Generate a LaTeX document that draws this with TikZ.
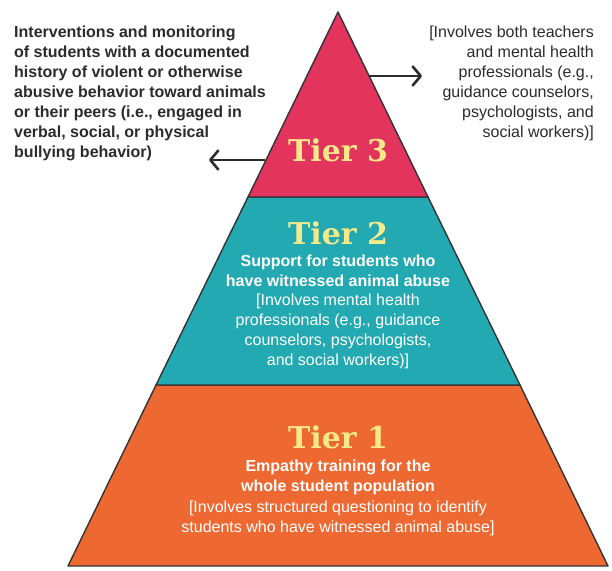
\documentclass[tikz,border=0pt]{standalone}
\usepackage{fontspec}
\setmainfont{Liberation Sans}
\newfontfamily\tierfont{DejaVu Serif}
\usetikzlibrary{positioning, arrows.meta}
\definecolor{tierred}{HTML}{E2345C}
\definecolor{tierteal}{HTML}{23A9B1}
\definecolor{tierorange}{HTML}{EE6831}
\definecolor{tieryellow}{HTML}{F6E98A}
\definecolor{notegray}{HTML}{2B2B2B}
\definecolor{edgegray}{HTML}{333333}
\tikzset{
  tier/.style={draw=edgegray, line width=1.4pt, line join=round},
  tierlabel/.style={font=\tierfont\bfseries\fontsize{30}{30}\selectfont, text=tieryellow, inner sep=0pt},
  tierbody/.style={font=\fontsize{16}{20}\selectfont, text=white, align=center, inner sep=0pt},
  sidenote/.style={font=\fontsize{16}{20}\selectfont, text=notegray, inner sep=0pt},
  pointer/.style={line width=1.8pt, draw=notegray, -{Straight Barb[length=8pt,width=19pt,line width=2.6pt,round]}},
}

\begin{document}
\begin{tikzpicture}[x=1pt, y=1pt]
            \useasboundingbox (0,0) rectangle (612,570);
            \coordinate (apex) at (338,558);
            \coordinate (c3l) at (248,373);
            \coordinate (c3r) at (428,373);
            \coordinate (c2l) at (156,185);
            \coordinate (c2r) at (520,185);
            \coordinate (bl) at (68,4);
            \coordinate (br) at (608,4);
            \draw[tier, fill=tierorange] (c2l) -- (c2r) -- (br) -- (bl) -- cycle;
            \draw[tier, fill=tierteal] (c3l) -- (c3r) -- (c2r) -- (c2l) -- cycle;
            \draw[tier, fill=tierred] (apex) -- (c3r) -- (c3l) -- cycle;

            \node[tierlabel] (t3) at (338,420) {Tier 3};
            \node[tierlabel] (t2) at (338,337) {Tier 2};
            \node[tierbody, font=\bfseries\fontsize{16}{20}\selectfont, below=10pt of t2] (t2a) {Support for students who\\have witnessed animal abuse};
            \node[tierbody, below=7pt of t2a] (t2b) {[Involves mental health\\professionals (e.g., guidance\\counselors, psychologists,\\and social workers)]};
            \node[tierlabel] (t1) at (338,133) {Tier 1};
            \node[tierbody, font=\bfseries\fontsize{16}{20}\selectfont, below=11pt of t1] (t1a) {Empathy training for the\\whole student population};
            \node[tierbody, below=6pt of t1a] (t1b) {[Involves structured questioning to identify\\students who have witnessed animal abuse]};

            \node[sidenote, font=\bfseries\fontsize{16}{20}\selectfont, align=left, anchor=north west] (n3) at (14,544) {Interventions and monitoring\\of students with a documented\\history of violent or otherwise\\abusive behavior toward animals\\or their peers (i.e., engaged in\\verbal, social, or physical\\bullying behavior)};
            \node[sidenote, align=right, anchor=north east] (s3) at (594,544) {[Involves both teachers\\and mental health\\professionals (e.g.,\\guidance counselors,\\psychologists, and\\social workers)]};

            \coordinate (p3l) at (265,410);
            \coordinate (q3l) at (209,410);
            \coordinate (p3r) at (369,494);
            \coordinate (q3r) at (422,494);
            \draw[pointer] (p3l) -- (q3l);
            \draw[pointer] (p3r) -- (q3r);
        \end{tikzpicture}
\end{document}
